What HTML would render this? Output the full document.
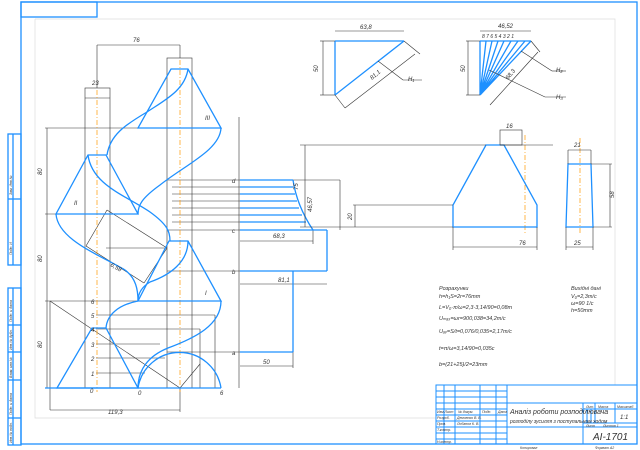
<!DOCTYPE html>
<html><head><meta charset="utf-8"><style>
html,body{margin:0;padding:0;background:#fff}
svg{display:block}
text{font-family:"Liberation Sans","DejaVu Sans",sans-serif;font-style:italic;fill:#333}
</style></head><body>
<svg width="640" height="450" viewBox="0 0 640 450" xmlns="http://www.w3.org/2000/svg">
<rect x="0" y="0" width="640" height="450" fill="#fff"/>
<g fill="none" stroke="#1e90ff" stroke-width="1.3">
<rect x="21" y="2" width="616" height="442"/>
<rect x="21" y="2" width="76" height="15"/>
<rect x="8" y="134" width="13" height="131"/>
<line x1="13" y1="134" x2="13" y2="265"/>
<line x1="8" y1="199" x2="21" y2="199"/>
<rect x="8" y="288" width="13" height="157"/>
<line x1="13" y1="288" x2="13" y2="445"/>
<line x1="8" y1="325" x2="21" y2="325"/>
<line x1="8" y1="352" x2="21" y2="352"/>
<line x1="8" y1="380" x2="21" y2="380"/>
<line x1="8" y1="418" x2="21" y2="418"/>
</g>
<g font-size="3.5" transform="rotate(-90)">
<text x="-195" y="12">Зам. Инв.№</text><text x="-255" y="12">Подп. И</text>
<text x="-322" y="12">Подп. и дата</text><text x="-350" y="12">Инв.№ дубл.</text>
<text x="-378" y="12">Взам. инв.№</text><text x="-415" y="12">Подп. и дата</text><text x="-443" y="12">Инв.№ подл.</text>
</g>
<path d="M35,19 L615,19 L615,385 M436,418 L35,418 L35,19" fill="none" stroke="#ddd" stroke-width="0.7"/>

<g stroke="#333" stroke-width="0.6" fill="none">
<rect x="85" y="88" width="25" height="300"/>
<line x1="85" y1="98" x2="110" y2="98"/>
<rect x="167" y="58" width="25" height="330"/>
<line x1="97" y1="45" x2="97" y2="88"/><line x1="180" y1="45" x2="180" y2="58"/>
<line x1="97" y1="45" x2="180" y2="45"/>
<line x1="45" y1="128" x2="221" y2="128"/>
<line x1="45" y1="214" x2="138" y2="214"/>
<line x1="45" y1="301" x2="221" y2="301"/>
<line x1="45" y1="388" x2="221" y2="388"/>
<line x1="47" y1="128" x2="47" y2="388"/>
<line x1="50" y1="301" x2="180" y2="388"/>
<line x1="50" y1="301" x2="50" y2="410"/>
<line x1="50" y1="410" x2="180" y2="410"/><line x1="180" y1="388" x2="180" y2="412"/>
<line x1="96" y1="315" x2="215" y2="315"/>
<line x1="96" y1="329" x2="200" y2="329"/>
<line x1="96" y1="344" x2="160" y2="344"/>
<line x1="96" y1="358" x2="165" y2="358"/>
<line x1="96" y1="373" x2="145" y2="373"/>
<line x1="215" y1="315" x2="215" y2="388"/>
<line x1="200" y1="329" x2="200" y2="388"/>
<line x1="107" y1="210" x2="167" y2="248"/>
<line x1="86" y1="246" x2="107" y2="210"/>
<line x1="86" y1="246" x2="144" y2="283"/>
<line x1="167" y1="248" x2="144" y2="283"/>
<line x1="106" y1="248" x2="167" y2="248"/>
<line x1="180" y1="388" x2="200" y2="364"/>
<line x1="167" y1="180" x2="240" y2="180"/>
<line x1="172" y1="187" x2="293" y2="187"/><line x1="172" y1="194" x2="295" y2="194"/>
<line x1="172" y1="201" x2="297" y2="201"/><line x1="172" y1="208" x2="299" y2="208"/>
<line x1="172" y1="215" x2="302" y2="215"/><line x1="172" y1="222" x2="306" y2="222"/>
<line x1="167" y1="230" x2="240" y2="230"/>
<line x1="167" y1="271" x2="240" y2="271"/>
<line x1="167" y1="352" x2="240" y2="352"/>
<line x1="239" y1="117" x2="239" y2="388"/>
<line x1="240" y1="180" x2="340" y2="180"/><line x1="340" y1="180" x2="340" y2="230"/>
<line x1="240" y1="241" x2="313" y2="241"/><line x1="313" y1="230" x2="313" y2="244"/>
<line x1="240" y1="284" x2="327" y2="284"/>
<line x1="240" y1="366" x2="293" y2="366"/>
<line x1="293" y1="352" x2="293" y2="368"/>
</g>
<g stroke="#f90" stroke-width="0.7" stroke-dasharray="5,2,1,2">
<line x1="97" y1="90" x2="97" y2="392"/>
<line x1="180" y1="60" x2="180" y2="392"/>
<line x1="525" y1="135" x2="525" y2="233"/>
<line x1="580" y1="138" x2="580" y2="233"/>
</g>
<g stroke="#1e90ff" stroke-width="1.3" fill="none">
<path d="M171,69 L188,69 L221,128 L138,128 Z"/>
<path d="M88,155 L106,155 L138,214 L56,214 Z"/>
<path d="M169,241 L188,241 L221,301 L138,301 Z"/>
<path d="M57,388 L92,328 L106,328 L138,388 Z"/>
<line x1="45" y1="388" x2="221" y2="388"/>
<path d="M188,69 C185,90 165,100 147,112 C125,125 110,135 107,155"/>
<path d="M221,128 C220,150 185,165 160,185 C142,198 138,205 138,214"/>
<path d="M88,155 C92,185 125,195 150,212 C168,225 170,232 170,241"/>
<path d="M56,214 C58,240 100,255 125,270 C136,278 138,290 138,301"/>
<path d="M188,241 C188,262 170,275 150,282 C140,288 138,295 138,301"/>
<path d="M221,301 C221,325 195,338 168,348 C148,356 138,370 138,388"/>
<path d="M138,301 C118,305 107,315 106,328"/>
<path d="M138,388 A42,42 0 0 1 221,388"/>
<line x1="240" y1="180" x2="293" y2="180"/>
<line x1="240" y1="187" x2="293" y2="187"/><line x1="240" y1="194" x2="295" y2="194"/>
<line x1="240" y1="201" x2="297" y2="201"/><line x1="240" y1="208" x2="299" y2="208"/>
<line x1="240" y1="215" x2="302" y2="215"/><line x1="240" y1="222" x2="306" y2="222"/>
<line x1="240" y1="230" x2="327" y2="230"/>
<path d="M293,180 C296,200 305,218 313,230"/>
<line x1="327" y1="230" x2="327" y2="271"/>
<line x1="240" y1="271" x2="327" y2="271"/>
<line x1="240" y1="352" x2="293" y2="352"/>
<line x1="293" y1="271" x2="293" y2="352"/>
<line x1="335" y1="41" x2="404" y2="41"/><line x1="335" y1="41" x2="335" y2="95"/>
<line x1="335" y1="95" x2="404" y2="41"/>
<path d="M480,41 L480,95 M486,41 L480,95 M492,41 L480,95 M498,41 L480,95 M504,41 L480,95 M511,41 L480,95 M518,41 L480,95 M525,41 L480,95 M531,41 L480,95"/>
<line x1="480" y1="41" x2="531" y2="41"/>
<path d="M486,145 L453,205 L453,227 L537,227 L537,205 L504,145 Z"/>
<path d="M568,164 L591,164 L593,227 L566,227 Z"/>
</g>
<g stroke="#333" stroke-width="0.6" fill="none">
<line x1="335" y1="31" x2="404" y2="31"/><line x1="320" y1="41" x2="335" y2="41"/><line x1="320" y1="95" x2="335" y2="95"/>
<line x1="323" y1="41" x2="323" y2="95"/>
<line x1="404" y1="41" x2="420" y2="54"/><line x1="335" y1="95" x2="345" y2="108"/><line x1="345" y1="108" x2="415" y2="54"/>
<line x1="378" y1="61" x2="403" y2="80"/><line x1="403" y1="80" x2="422" y2="80"/>
<line x1="480" y1="31" x2="531" y2="31"/><line x1="466" y1="41" x2="480" y2="41"/><line x1="466" y1="95" x2="480" y2="95"/>
<line x1="468" y1="41" x2="468" y2="95"/>
<line x1="531" y1="41" x2="540" y2="52"/><line x1="490" y1="105" x2="538" y2="52"/>
<line x1="521" y1="51" x2="552" y2="71"/><line x1="552" y1="71" x2="566" y2="71"/>
<line x1="489" y1="70" x2="545" y2="97"/><line x1="545" y1="97" x2="566" y2="97"/>
<rect x="500" y="130" width="22" height="15"/>
<line x1="500" y1="145" x2="553" y2="145"/>
<line x1="300" y1="145" x2="486" y2="145"/><line x1="300" y1="227" x2="453" y2="227"/>
<line x1="305" y1="145" x2="305" y2="227"/>
<line x1="353" y1="205" x2="453" y2="205"/><line x1="355" y1="205" x2="355" y2="227"/>
<line x1="453" y1="227" x2="453" y2="250"/><line x1="537" y1="227" x2="537" y2="250"/>
<line x1="453" y1="247" x2="537" y2="247"/>
<line x1="568" y1="150" x2="591" y2="150"/><line x1="568" y1="150" x2="568" y2="164"/><line x1="591" y1="150" x2="591" y2="164"/>
<line x1="591" y1="164" x2="612" y2="164"/><line x1="593" y1="227" x2="612" y2="227"/><line x1="610" y1="164" x2="610" y2="227"/>
<line x1="566" y1="227" x2="566" y2="250"/><line x1="593" y1="227" x2="593" y2="250"/><line x1="566" y1="247" x2="593" y2="247"/>
</g>
<g font-size="6">
<text x="133" y="42">76</text><text x="92" y="85">23</text>
<text x="42" y="175" transform="rotate(-90 42 175)">80</text>
<text x="42" y="262" transform="rotate(-90 42 262)">80</text>
<text x="42" y="348" transform="rotate(-90 42 348)">80</text>
<text x="108" y="414">119,3</text>
<text x="273" y="238">68,3</text><text x="278" y="282">81,1</text><text x="263" y="364">50</text>
<text x="312" y="212" transform="rotate(-90 312 212)">46,57</text>
<text x="360" y="29">63,8</text><text x="498" y="28">46,52</text>
<text x="318" y="72" transform="rotate(-90 318 72)">50</text>
<text x="465" y="72" transform="rotate(-90 465 72)">50</text>
<text x="372" y="80" transform="rotate(-40 372 80)">81,1</text>
<text x="508" y="80" transform="rotate(-50 508 80)">68,3</text>
<text x="408" y="81">H₁</text><text x="556" y="72">H₂</text><text x="556" y="99">H₃</text>
<text x="482" y="38" font-size="5">8 7 6 5 4 3 2 1</text>
<text x="506" y="128">16</text><text x="519" y="245">76</text>
<text x="574" y="147">21</text><text x="574" y="245">25</text>
<text x="298" y="190" transform="rotate(-90 298 190)">75</text>
<text x="614" y="198" transform="rotate(-90 614 198)">58</text>
<text x="352" y="220" transform="rotate(-90 352 220)">20</text>
<text x="74" y="205">II</text><text x="205" y="120">III</text><text x="205" y="295">I</text>
<text x="90" y="393">0</text><text x="138" y="395">0</text><text x="220" y="395">6</text>
<text x="91" y="304">6</text><text x="91" y="318">5</text><text x="91" y="332">4</text><text x="91" y="347">3</text><text x="91" y="361">2</text><text x="91" y="376">1</text>
<text x="232" y="183">d</text><text x="232" y="233">c</text><text x="232" y="274">b</text><text x="232" y="355">a</text>
<text x="110" y="266" transform="rotate(30 110 266)">6,58</text>
</g>
<g font-size="5.5">
<text x="439" y="290">Розрахунки</text>
<text x="439" y="298">h=h₁S=2r=76mm</text>
<text x="439" y="309">L=V₀·π/ω=2,3·3,14/90=0,08m</text>
<text x="439" y="320">Uₘₐₓ=ωr=900,038=34,2m/c</text>
<text x="439" y="333">Uₐᵥ=S/t=0,076/0,035=2,17m/c</text>
<text x="439" y="350">t=π/ω=3,14/90=0,035c</text>
<text x="439" y="366">b=(21+25)/2=23mm</text>
<text x="571" y="290">Вихідні дані</text>
<text x="571" y="298">V₀=2,3m/c</text>
<text x="571" y="305">ω=90 1/c</text>
<text x="571" y="312">h=50mm</text>
</g>
<g stroke="#1e90ff" stroke-width="1" fill="none">
<rect x="436" y="385" width="201" height="59"/>
<line x1="444" y1="385" x2="444" y2="444"/><line x1="455" y1="385" x2="455" y2="444"/>
<line x1="480" y1="385" x2="480" y2="444"/><line x1="496" y1="385" x2="496" y2="444"/>
<line x1="507" y1="385" x2="507" y2="444"/>
<line x1="436" y1="391" x2="507" y2="391"/><line x1="436" y1="397" x2="507" y2="397"/>
<line x1="436" y1="403" x2="637" y2="403"/><line x1="436" y1="409" x2="507" y2="409"/>
<line x1="436" y1="415" x2="507" y2="415"/><line x1="436" y1="421" x2="507" y2="421"/>
<line x1="436" y1="427" x2="637" y2="427"/><line x1="436" y1="433" x2="507" y2="433"/>
<line x1="436" y1="439" x2="507" y2="439"/>
<line x1="583" y1="403" x2="583" y2="444"/>
<line x1="583" y1="409" x2="637" y2="409"/><line x1="583" y1="423" x2="637" y2="423"/>
<line x1="595" y1="403" x2="595" y2="423"/><line x1="615" y1="403" x2="615" y2="423"/>
<line x1="587" y1="409" x2="587" y2="423"/><line x1="591" y1="409" x2="591" y2="423"/>
</g>
<g font-size="3.5">
<text x="437" y="413">Изм Лист</text><text x="458" y="413">№ докум.</text><text x="482" y="413">Подп.</text><text x="498" y="413">Дата</text>
<text x="437" y="419">Розроб.</text><text x="457" y="419">Демченко В. В.</text>
<text x="437" y="425">Пров.</text><text x="457" y="425">Лобанов К. В.</text>
<text x="437" y="431">Т.контр.</text><text x="437" y="443">Н.контр.</text>
<text x="586" y="408">Лит.</text><text x="598" y="408">Масса</text><text x="617" y="408">Масштаб</text>
<text x="586" y="427">Лист</text><text x="603" y="427">Листов 1</text>
<text x="520" y="449">Копировал</text><text x="595" y="449">Формат А2</text>
</g>
<text x="510" y="414" font-size="7">Аналіз роботи розподілювача</text>
<text x="510" y="423" font-size="5">розподілу зусилля з поступальним ходом</text>
<text x="620" y="419" font-size="6">1:1</text>
<text x="593" y="440" font-size="10">АІ-1701</text>
</svg>
</body></html>
